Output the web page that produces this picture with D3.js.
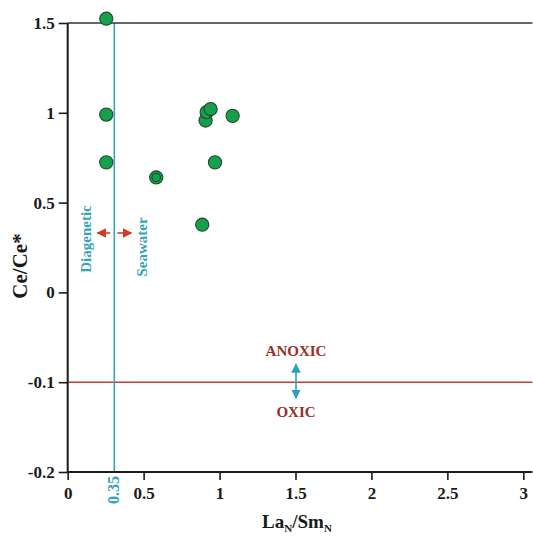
<!DOCTYPE html>
<html><head><meta charset="utf-8">
<script src="https://cdn.jsdelivr.net/npm/d3@7"></script>
<style>
html,body{margin:0;padding:0;background:#fff;}
svg{display:block;}
text{font-family:"Liberation Serif","Times New Roman",serif;font-weight:bold;}
</style></head>
<body><svg id="c" width="533" height="536"></svg>
<script>
// ---- data ----
const laSm  = [0.254, 0.254, 0.254, 0.583, 0.583, 0.908, 0.915, 0.941, 1.086, 0.970, 0.886];
const ceCe  = [1.524, 0.990, 0.724, 0.640, 0.640, 0.957, 1.004, 1.021, 0.983, 0.724, 0.377];
const xTicks = [0, 0.5, 1, 1.5, 2, 2.5, 3];
const yTicks = [-0.2, -0.1, 0, 0.5, 1, 1.5];
const xMax = 3.06;
const boundaryX = 0.307, boundaryLabel = "0.35";
const redoxY = -0.1;

const svg = d3.select("#c");
const mLeft = 67.7, mRight = 523.3, mTop = 23, mBottom = 472;

const x = d3.scaleLinear().domain([0, 3]).range([mLeft, mRight]);
const step = (mBottom - mTop) / (yTicks.length - 1);
const y = d3.scaleLinear().domain(yTicks).range(yTicks.map((d, i) => mBottom - i * step));

const black = "#1a1a1a", cyan = "#36a3b6", red = "#c0413a", darkRed = "#9a2f28";
const fmt = d => String(d);

// red redox line
svg.append("line").attr("x1", x(0)).attr("x2", x(xMax)).attr("y1", y(redoxY)).attr("y2", y(redoxY))
  .attr("stroke", red).attr("stroke-width", 1.6);
// cyan boundary line
svg.append("line").attr("x1", x(boundaryX)).attr("x2", x(boundaryX)).attr("y1", y(1.5)).attr("y2", y(-0.2))
  .attr("stroke", cyan).attr("stroke-width", 1.6);
// top border
svg.append("line").attr("x1", x(0)).attr("x2", x(xMax)).attr("y1", y(1.5)).attr("y2", y(1.5))
  .attr("stroke", "#333").attr("stroke-width", 1.6);

// axes
const xAxis = svg.append("g").attr("transform", `translate(0,${y(-0.2)})`)
  .call(d3.axisBottom(x).tickValues(xTicks).tickFormat(fmt).tickSize(8).tickPadding(7).tickSizeOuter(0));
xAxis.select(".domain").remove();
xAxis.append("line").attr("x1", x(0)).attr("x2", x(xMax)).attr("stroke", black).attr("stroke-width", 2);
xAxis.selectAll(".tick line").attr("stroke", black).attr("stroke-width", 1.6);
xAxis.selectAll(".tick text").attr("fill", black).style("font-size", "17px");

const yAxis = svg.append("g").attr("transform", `translate(${x(0)},0)`)
  .call(d3.axisLeft(y).tickValues(yTicks).tickFormat(fmt).tickSize(9).tickPadding(4).tickSizeOuter(0));
yAxis.select(".domain").remove();
yAxis.append("line").attr("y1", y(1.5)).attr("y2", y(-0.2) + 1).attr("stroke", black).attr("stroke-width", 2);
yAxis.selectAll(".tick line").attr("stroke", black).attr("stroke-width", 1.6);
yAxis.selectAll(".tick text").attr("fill", black).style("font-size", "17px");

// boundary label
svg.append("text").attr("transform", `translate(${x(boundaryX) + 5},${y(-0.2) + 18}) rotate(-90)`)
  .attr("text-anchor", "middle").attr("fill", cyan).style("font-size", "16px").text(boundaryLabel);

// axis titles
const xl = svg.append("text").attr("x", 297).attr("y", 528).attr("text-anchor", "middle")
  .attr("fill", black).style("font-size", "19px");
xl.append("tspan").text("La");
xl.append("tspan").attr("dy", 4).style("font-size", "11px").text("N");
xl.append("tspan").attr("dy", -4).text("/Sm");
xl.append("tspan").attr("dy", 4).style("font-size", "11px").text("N");

svg.append("text").attr("transform", "translate(27,266) rotate(-90)").attr("text-anchor", "middle")
  .attr("fill", black).style("font-size", "21px").text("Ce/Ce*");

// Diagenetic / Seawater
svg.append("text").attr("transform", "translate(91,239) rotate(-90)").attr("text-anchor", "middle")
  .attr("fill", cyan).style("font-size", "15px").text("Diagenetic");
svg.append("text").attr("transform", "translate(147,247) rotate(-90)").attr("text-anchor", "middle")
  .attr("fill", cyan).style("font-size", "15px").text("Seawater");

// arrow markers
const defs = svg.append("defs");
function marker(id, color) {
  defs.append("marker").attr("id", id).attr("viewBox", "0 0 10 10").attr("refX", 9).attr("refY", 5)
    .attr("markerWidth", 6).attr("markerHeight", 6).attr("orient", "auto-start-reverse")
    .append("path").attr("d", "M0,0 L10,5 L0,10 z").attr("fill", color);
}
marker("ar", "#d43a2c");
marker("ac", "#2a9fc0");
const ay = 233;
svg.append("line").attr("x1", x(boundaryX) - 4).attr("x2", x(boundaryX) - 17).attr("y1", ay).attr("y2", ay)
  .attr("stroke", "#d43a2c").attr("stroke-width", 1.6).attr("marker-end", "url(#ar)");
svg.append("line").attr("x1", x(boundaryX) + 3).attr("x2", x(boundaryX) + 17).attr("y1", ay).attr("y2", ay)
  .attr("stroke", "#d43a2c").attr("stroke-width", 1.6).attr("marker-end", "url(#ar)");

// ANOXIC / OXIC
svg.append("text").attr("x", 296).attr("y", 356).attr("text-anchor", "middle").attr("fill", darkRed)
  .style("font-size", "15px").text("ANOXIC");
svg.append("text").attr("x", 296).attr("y", 417).attr("text-anchor", "middle").attr("fill", darkRed)
  .style("font-size", "15px").text("OXIC");
svg.append("line").attr("x1", 296).attr("x2", 296).attr("y1", y(redoxY) - 6).attr("y2", y(redoxY) - 18)
  .attr("stroke", "#2a9fc0").attr("stroke-width", 1.6).attr("marker-end", "url(#ac)");
svg.append("line").attr("x1", 296).attr("x2", 296).attr("y1", y(redoxY) - 6).attr("y2", y(redoxY) + 16)
  .attr("stroke", "#2a9fc0").attr("stroke-width", 1.6).attr("marker-end", "url(#ac)");

// points
const pts = laSm.map((d, i) => ({x: d, y: ceCe[i], dup: i > 0 && laSm[i - 1] === d && ceCe[i - 1] === ceCe[i]}));
svg.append("g").selectAll("circle").data(pts).join("circle")
  .attr("cx", d => x(d.x)).attr("cy", d => y(d.y)).attr("r", d => d.dup ? 4.2 : 6.6)
  .attr("fill", "#15a04e").attr("stroke", "#1d4a2a").attr("stroke-width", 1.1);
</script></body></html>
